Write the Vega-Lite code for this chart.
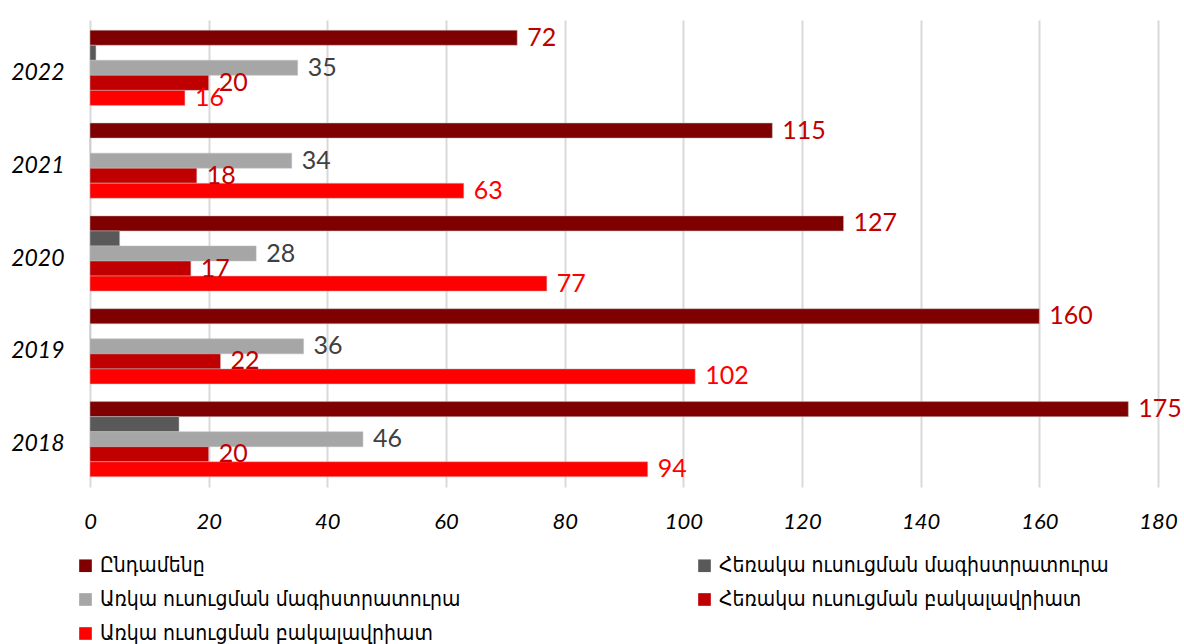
{
  "$schema": "https://vega.github.io/schema/vega-lite/v6.json",
  "width": 1068,
  "height": 467,
  "autosize": {"type": "none"},
  "padding": {"left": 90, "top": 20, "right": 26, "bottom": 157},
  "background": "white",
  "config": {
    "view": {"stroke": null},
    "font": "Lato, DejaVu Sans, sans-serif"
  },
  "data": {
    "values": [
      {"year": "2022", "series": "Ընդամենը", "value": 72},
      {"year": "2022", "series": "Հեռակա ուսուցման մագիստրատուրա", "value": 1},
      {"year": "2022", "series": "Առկա ուսուցման մագիստրատուրա", "value": 35},
      {"year": "2022", "series": "Հեռակա ուսուցման բակալավրիատ", "value": 20},
      {"year": "2022", "series": "Առկա ուսուցման բակալավրիատ", "value": 16},
      {"year": "2021", "series": "Ընդամենը", "value": 115},
      {"year": "2021", "series": "Հեռակա ուսուցման մագիստրատուրա", "value": 0},
      {"year": "2021", "series": "Առկա ուսուցման մագիստրատուրա", "value": 34},
      {"year": "2021", "series": "Հեռակա ուսուցման բակալավրիատ", "value": 18},
      {"year": "2021", "series": "Առկա ուսուցման բակալավրիատ", "value": 63},
      {"year": "2020", "series": "Ընդամենը", "value": 127},
      {"year": "2020", "series": "Հեռակա ուսուցման մագիստրատուրա", "value": 5},
      {"year": "2020", "series": "Առկա ուսուցման մագիստրատուրա", "value": 28},
      {"year": "2020", "series": "Հեռակա ուսուցման բակալավրիատ", "value": 17},
      {"year": "2020", "series": "Առկա ուսուցման բակալավրիատ", "value": 77},
      {"year": "2019", "series": "Ընդամենը", "value": 160},
      {"year": "2019", "series": "Հեռակա ուսուցման մագիստրատուրա", "value": 0},
      {"year": "2019", "series": "Առկա ուսուցման մագիստրատուրա", "value": 36},
      {"year": "2019", "series": "Հեռակա ուսուցման բակալավրիատ", "value": 22},
      {"year": "2019", "series": "Առկա ուսուցման բակալավրիատ", "value": 102},
      {"year": "2018", "series": "Ընդամենը", "value": 175},
      {"year": "2018", "series": "Հեռակա ուսուցման մագիստրատուրա", "value": 15},
      {"year": "2018", "series": "Առկա ուսուցման մագիստրատուրա", "value": 46},
      {"year": "2018", "series": "Հեռակա ուսուցման բակալավրիատ", "value": 20},
      {"year": "2018", "series": "Առկա ուսուցման բակալավրիատ", "value": 94}
    ]
  },
  "encoding": {
    "y": {
      "field": "year", "type": "nominal",
      "sort": ["2022", "2021", "2020", "2019", "2018"],
      "scale": {"paddingInner": 0.19, "paddingOuter": 0.11},
      "axis": {
        "title": null, "domain": false, "ticks": false,
        "labelFontSize": 23, "labelFontStyle": "italic", "labelColor": "#000000",
        "labelPadding": 26, "labelOffset": 5, "labelFont": "Lato, DejaVu Sans, sans-serif"
      }
    },
    "yOffset": {
      "field": "series", "type": "nominal",
      "sort": ["Ընդամենը", "Հեռակա ուսուցման մագիստրատուրա", "Առկա ուսուցման մագիստրատուրա", "Հեռակա ուսուցման բակալավրիատ", "Առկա ուսուցման բակալավրիատ"],
      "scale": {"paddingInner": 0, "paddingOuter": 0}
    },
    "x": {
      "field": "value", "type": "quantitative",
      "scale": {"domain": [0, 180], "nice": false},
      "axis": {
        "title": null, "values": [0, 20, 40, 60, 80, 100, 120, 140, 160, 180],
        "domain": false, "ticks": false,
        "grid": true, "gridColor": "#d9d9d9", "gridWidth": 2,
        "labelFontSize": 22, "labelFontStyle": "italic", "labelColor": "#000000",
        "labelPadding": 24, "labelFlush": false
      }
    }
  },
  "layer": [
    {
      "mark": {"type": "bar", "stroke": "#bfbfbf", "strokeWidth": 0.5},
      "encoding": {
        "color": {
          "field": "series", "type": "nominal",
          "scale": {
            "domain": ["Ընդամենը", "Առկա ուսուցման մագիստրատուրա", "Առկա ուսուցման բակալավրիատ", "Հեռակա ուսուցման մագիստրատուրա", "Հեռակա ուսուցման բակալավրիատ"],
            "range": ["#7f0000", "#a6a6a6", "#ff0000", "#595959", "#c00000"]
          },
          "legend": {
            "title": null, "orient": "none", "legendX": -15, "legendY": 535,
            "columns": 2, "columnPadding": 233, "rowPadding": 12,
            "symbolType": "square", "symbolSize": 160, "symbolStrokeWidth": 0,
            "labelFontSize": 21, "labelLimit": 600, "labelColor": "#000000",
            "labelFont": "DejaVu Sans Condensed, DejaVu Sans, sans-serif",
            "labelOffset": 4
          }
        }
      }
    },
    {
      "transform": [{"filter": "datum.series !== 'Հեռակա ուսուցման մագիստրատուրա'"}],
      "mark": {"type": "text", "align": "left", "baseline": "middle", "dx": 10, "fontSize": 25},
      "encoding": {
        "text": {"field": "value", "type": "quantitative"},
        "color": {
          "condition": [
            {"test": "datum.series === 'Առկա ուսուցման մագիստրատուրա'", "value": "#404040"},
            {"test": "datum.series === 'Առկա ուսուցման բակալավրիատ'", "value": "#ff0000"}
          ],
          "value": "#c00000"
        }
      }
    }
  ]
}
